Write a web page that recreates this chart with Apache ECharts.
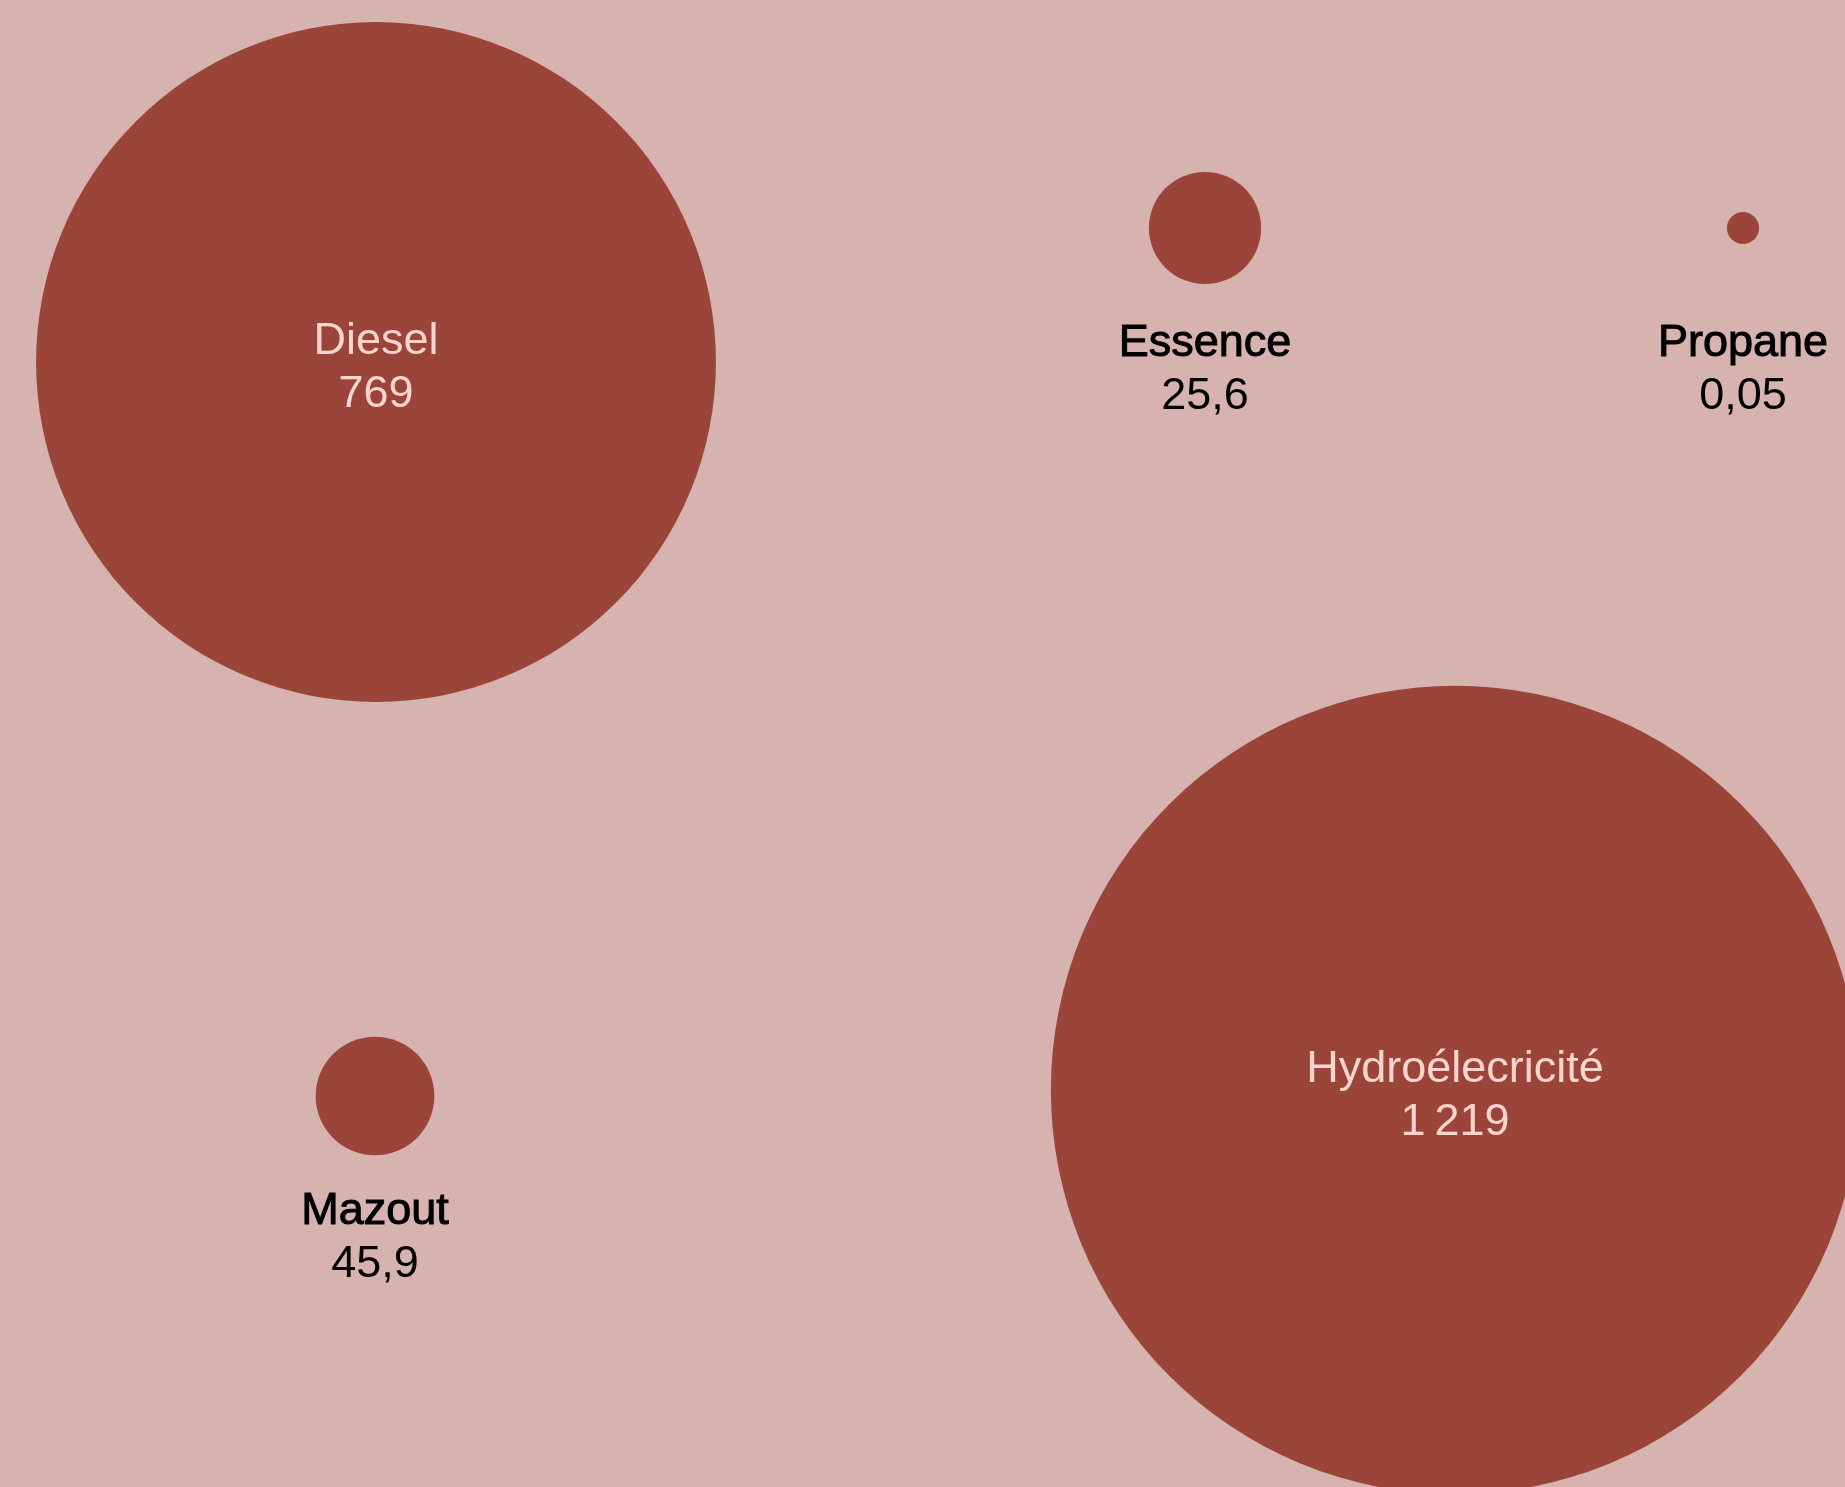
<!DOCTYPE html>
<html lang="fr">
<head>
<meta charset="utf-8">
<title>Production d'énergie</title>
<script src="https://cdn.jsdelivr.net/npm/echarts@6/dist/echarts.min.js"></script>
<style>
  html, body { margin: 0; padding: 0; background: #d7b3af; }
  #chart { width: 1845px; height: 1487px; }
</style>
</head>
<body>
<div id="chart"></div>
<script>
// Energy sources and their values
const categories = ['Diesel', 'Essence', 'Propane', 'Mazout', 'Hydroélecricité'];
const values = [769, 25.6, 0.05, 45.9, 1219];

// Where each bubble sits on the (hidden) layout axes
const layoutX = { 'Diesel': 376, 'Essence': 1205, 'Propane': 1743, 'Mazout': 375, 'Hydroélecricité': 1455 };
const layoutY = { 'Diesel': 362, 'Essence': 228, 'Propane': 228, 'Mazout': 1096, 'Hydroélecricité': 1090 };

// Radius scale: piecewise linear from value to radius (px)
const radiusDomain = [0, 25, 50, 800, 1250];
const radiusRange = [16, 56, 60, 352, 408];
function radiusOf(v) {
  for (let i = 1; i < radiusDomain.length; i++) {
    if (v <= radiusDomain[i] || i === radiusDomain.length - 1) {
      const t = (v - radiusDomain[i - 1]) / (radiusDomain[i] - radiusDomain[i - 1]);
      return radiusRange[i - 1] + t * (radiusRange[i] - radiusRange[i - 1]);
    }
  }
}

// French number format: comma decimals, narrow-space thousands
function fmt(v) {
  const parts = String(v).split('.');
  parts[0] = parts[0].replace(/\B(?=(\d{3})+(?!\d))/g, '\u2009');
  return parts.join(',');
}

const BIG = 100; // values above this get their label inside the bubble
const FONT = '"Liberation Sans", Arial, Helvetica, sans-serif';

const data = categories.map((name, i) => {
  const v = values[i];
  const inside = v > BIG;
  return {
    name: name,
    value: [layoutX[name], layoutY[name], v],
    label: inside ? {
      position: 'inside',
      offset: [0, 6],
      formatter: '{n|{b}}\n{v|' + fmt(v) + '}',
      rich: {
        n: { fontFamily: FONT, fontSize: 45, lineHeight: 53, color: '#f9d3ce' },
        v: { fontFamily: FONT, fontSize: 45, lineHeight: 53, color: '#f9d3ce' }
      }
    } : {
      position: 'inside',
      offset: [0, 142],
      formatter: '{n|{b}}\n{v|' + fmt(v) + '}',
      rich: {
        // a thin outline gives the name a medium weight
        n: { fontFamily: FONT, fontSize: 45, lineHeight: 53, color: '#000',
             textBorderColor: '#000', textBorderWidth: 1 },
        v: { fontFamily: FONT, fontSize: 45, lineHeight: 53, color: '#000' }
      }
    }
  };
});

const chart = echarts.init(document.getElementById('chart'), null, { renderer: 'canvas' });
chart.setOption({
  backgroundColor: '#d7b3af',
  animation: false,
  grid: { left: 0, right: 0, top: 0, bottom: 0 },
  xAxis: { type: 'value', min: 0, max: 1845, show: false },
  yAxis: { type: 'value', min: 0, max: 1487, inverse: true, show: false },
  series: [{
    type: 'scatter',
    clip: false,
    symbol: 'circle',
    symbolSize: (val) => 2 * radiusOf(val[2]),
    itemStyle: { color: '#9b4439', opacity: 1 },
    label: { show: true },
    emphasis: { disabled: true },
    data: data
  }]
});
</script>
</body>
</html>
